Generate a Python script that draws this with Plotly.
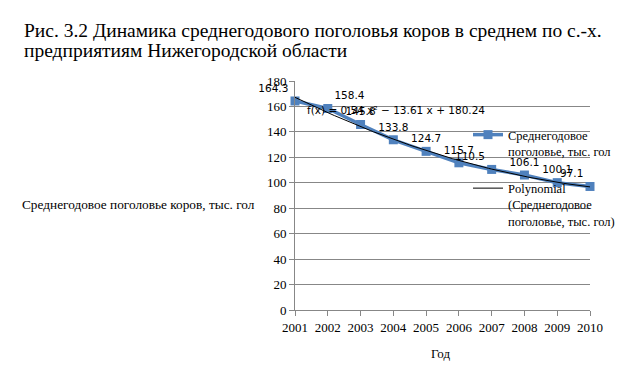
import numpy as np
import plotly.graph_objects as go

years = ["2001", "2002", "2003", "2004", "2005", "2006", "2007", "2008", "2009", "2010"]
values = [164.3, 158.4, 145.8, 133.8, 124.7, 115.7, 110.5, 106.1, 100.1, 97.1]
label_pos = ["top left", "top right", "top center", "top center", "top center",
             "top center", "top left", "top center", "top center", "top left"]
y_ticks = [0, 20, 40, 60, 80, 100, 120, 140, 160, 180]

title_lines = ["Рис. 3.2 Динамика среднегодового поголовья коров в среднем по с.-х.",
               "предприятиям Нижегородской области"]
series_name = "Среднегодовое<br>поголовье, тыс. гол"
trend_name = "Polynomial<br>(Среднегодовое<br>поголовье, тыс. гол)"
equation = "f(x) = 0.54 x² − 13.61 x + 180.24"

# polynomial (order 2) trendline fitted to the data
idx = np.arange(1, len(values) + 1)
coef = np.polyfit(idx, values, 2)
xs = np.linspace(1, len(values), 91)
ys = np.polyval(coef, xs)

serif = "Liberation Serif, Times New Roman, serif"
sans = "DejaVu Sans, sans-serif"

OFF = 8  # page offset of the figure in the browser
W, H = 624, 381
L, T = 295 - OFF, 81 - OFF
R, B = W - (590 - OFF), H - (310 - OFF)
pw, ph = W - L - R, H - T - B


def px(xs_):
    return (xs_ - OFF - L) / pw


def py(ys_):
    return (H - B - (ys_ - OFF)) / ph


fig = go.Figure()
fig.add_trace(go.Scatter(
    x=list(range(len(years))), y=values, mode="lines+markers+text",
    name=series_name, legendgroup="s",
    line=dict(color="#4F81BD", width=3.5),
    marker=dict(symbol="square", size=9, color="#4F81BD"),
    text=[f"{v:.1f}" for v in values], textposition=label_pos,
    textfont=dict(family=sans, size=10.5, color="black"),
    cliponaxis=False,
))
fig.add_trace(go.Scatter(
    x=xs - 1, y=ys, mode="lines", name=trend_name, legendgroup="t",
    line=dict(color="black", width=1), cliponaxis=False,
))

fig.add_annotation(text=equation, xref="x", yref="y", x=0.3, y=157, showarrow=False,
                   xanchor="left", font=dict(family=sans, size=10.5, color="black"))

for i, line in enumerate(title_lines):
    fig.add_annotation(text=line, xref="paper", yref="paper", x=px(22), y=py(30 + 20 * i),
                       xanchor="left", yanchor="middle", showarrow=False,
                       font=dict(family=serif, size=19.5, color="black"))

fig.add_annotation(text="Среднегодовое поголовье коров, тыс. гол", xref="paper", yref="paper",
                   x=px(20), y=py(204), xanchor="left", yanchor="middle",
                   showarrow=False, font=dict(family=serif, size=13.3, color="black"))
fig.add_annotation(text="Год", xref="paper", yref="paper", x=px(440),
                   y=py(353), xanchor="center", yanchor="middle", showarrow=False,
                   font=dict(family=serif, size=13, color="black"))

fig.update_layout(
    width=W, height=H,
    margin=dict(l=L, r=R, t=T, b=B, autoexpand=False),
    paper_bgcolor="white", plot_bgcolor="white",
    legend=dict(x=px(468), y=py(120), xanchor="left", yanchor="top", valign="top",
                bgcolor="rgba(0,0,0,0)", itemwidth=30,
                font=dict(family=serif, size=12.5, color="black"), tracegroupgap=18),
    xaxis=dict(range=[0, 9], tickmode="array", tickvals=list(range(len(years))), ticktext=years,
               showgrid=False, showline=True, linecolor="#878787", ticks="outside",
               tickcolor="#878787", ticklen=5, zeroline=False,
               tickfont=dict(family=serif, size=13, color="black")),
    yaxis=dict(range=[0, 180], tickvals=y_ticks, showgrid=True, gridcolor="#878787",
               showline=True, linecolor="#878787", ticks="outside", tickcolor="#878787",
               ticklen=5, zeroline=False,
               tickfont=dict(family=serif, size=13, color="black")),
)
fig.write_html("out.html")
